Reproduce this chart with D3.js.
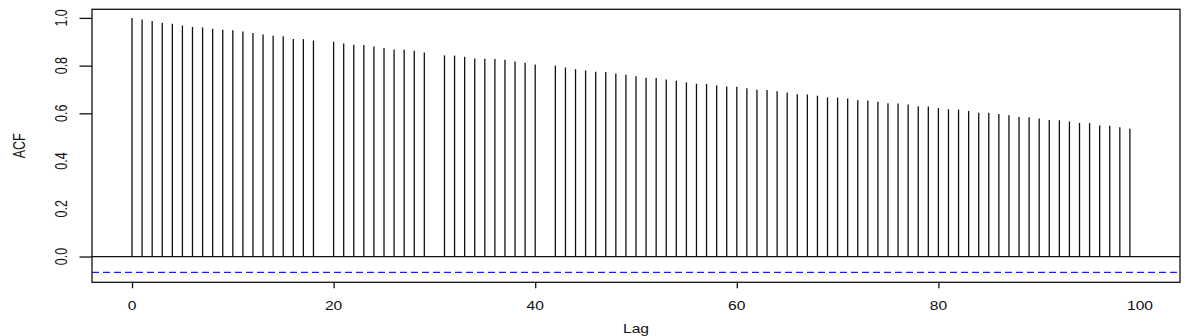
<!DOCTYPE html>
<html>
<head>
<meta charset="utf-8">
<script src="https://cdn.jsdelivr.net/npm/d3@7"></script>
<style>
    html, body { margin: 0; padding: 0; background: #fff; }
    svg { display: block; }
    text { font-family: "Liberation Sans", Arial, sans-serif; fill: #111; }
</style>
</head>
<body>
<div id="chart"></div>
<script>
// ACF 值，按 lag = 下标排列，null 表示图中缺失的柱
const acfValues = [
    1.000, 0.993, 0.987, 0.980, 0.975, 0.968, 0.962, 0.960, 0.955, 0.950,
    0.948, 0.943, 0.937, 0.930, 0.925, 0.923, 0.912, 0.911, 0.905, null,
    0.900, 0.893, 0.887, 0.886, 0.880, 0.874, 0.868, 0.866, 0.862, 0.855,
    null, 0.843, 0.842, 0.837, 0.830, 0.829, 0.828, 0.825, 0.817, 0.812,
    0.805, null, 0.800, 0.792, 0.785, 0.780, 0.774, 0.773, 0.767, 0.762,
    0.755, 0.749, 0.748, 0.742, 0.737, 0.730, 0.724, 0.723, 0.717, 0.712,
    0.711, 0.705, 0.699, 0.698, 0.693, 0.687, 0.680, 0.679, 0.674, 0.667,
    0.666, 0.662, 0.655, 0.654, 0.649, 0.642, 0.641, 0.637, 0.630, 0.629,
    0.622, 0.617, 0.616, 0.610, 0.603, 0.602, 0.597, 0.592, 0.585, 0.584,
    0.578, 0.572, 0.571, 0.566, 0.560, 0.559, 0.549, 0.548, 0.542, 0.535
];
const confLimit = -0.066;

// 刻度
const xTickLabels = [0, 20, 40, 60, 80, 100];
const xTickMarks = [0, 20, 40, 60, 80];
const yTickLabels = [0.0, 0.2, 0.4, 0.6, 0.8, 1.0];
const yTickMarks = [0.0, 0.6, 0.8, 1.0];

const width = 1193;
const height = 336;
const box = { left: 92, right: 1180, top: 9.3, bottom: 282.3 };
const sx = 1.25; // 图片横向拉伸

const svg = d3
    .select("#chart")
    .append("svg")
    .attr("width", width)
    .attr("height", height);

const x = d3.scaleLinear().domain([-3.97, 103.97]).range([box.left, box.right]);
const y = d3.scaleLinear().domain([-0.108, 1.036]).range([box.bottom, box.top]);

const bars = acfValues
    .map((v, i) => ({ lag: i, value: v }))
    .filter(d => d.value !== null);

// 柱（竖线）
svg.append("g")
    .selectAll("line")
    .data(bars)
    .enter()
    .append("line")
    .attr("x1", d => x(d.lag))
    .attr("x2", d => x(d.lag))
    .attr("y1", y(0))
    .attr("y2", d => y(d.value))
    .attr("stroke", "#111")
    .attr("stroke-width", 1.3);

// 零线
svg.append("line")
    .attr("x1", box.left)
    .attr("x2", box.right)
    .attr("y1", y(0))
    .attr("y2", y(0))
    .attr("stroke", "#111")
    .attr("stroke-width", 1.3);

// 置信区间虚线
svg.append("line")
    .attr("x1", box.left)
    .attr("x2", box.right)
    .attr("y1", y(confLimit))
    .attr("y2", y(confLimit))
    .attr("stroke", "#1f1fe0")
    .attr("stroke-width", 1.3)
    .attr("stroke-dasharray", "7,4");

// 边框
svg.append("rect")
    .attr("x", box.left)
    .attr("y", box.top)
    .attr("width", box.right - box.left)
    .attr("height", box.bottom - box.top)
    .attr("fill", "none")
    .attr("stroke", "#111")
    .attr("stroke-width", 1.3);

// X 轴刻度
const xAxis = svg.append("g")
    .attr("transform", `translate(0,${box.bottom})`)
    .call(d3.axisBottom(x).tickValues(xTickMarks).tickSize(6).tickFormat(""));
xAxis.select(".domain").remove();
xAxis.selectAll("line").attr("stroke", "#111").attr("stroke-width", 1.3);

svg.append("g")
    .selectAll("text")
    .data(xTickLabels)
    .enter()
    .append("text")
    .attr("transform", d => `translate(${x(d)},310) scale(${sx},1)`)
    .attr("text-anchor", "middle")
    .attr("font-size", "12.5px")
    .text(d => d);

// Y 轴刻度
const yAxis = svg.append("g")
    .attr("transform", `translate(${box.left},0)`)
    .call(d3.axisLeft(y).tickValues(yTickMarks).tickSize(12.5).tickFormat(""));
yAxis.select(".domain").remove();
yAxis.selectAll("line").attr("stroke", "#111").attr("stroke-width", 1.3);

svg.append("g")
    .selectAll("text")
    .data(yTickLabels)
    .enter()
    .append("text")
    .attr("transform", d => `translate(67,${y(d)}) scale(${sx},1) rotate(-90)`)
    .attr("text-anchor", "middle")
    .attr("font-size", "12.5px")
    .text(d => d.toFixed(1));

// 轴标题
svg.append("text")
    .attr("transform", `translate(${(box.left + box.right) / 2},333) scale(${sx},1)`)
    .attr("text-anchor", "middle")
    .attr("font-size", "12.5px")
    .text("Lag");

svg.append("text")
    .attr("transform", `translate(25,${(box.top + box.bottom) / 2}) scale(${sx},1) rotate(-90)`)
    .attr("text-anchor", "middle")
    .attr("font-size", "12.5px")
    .text("ACF");
</script>
</body>
</html>
